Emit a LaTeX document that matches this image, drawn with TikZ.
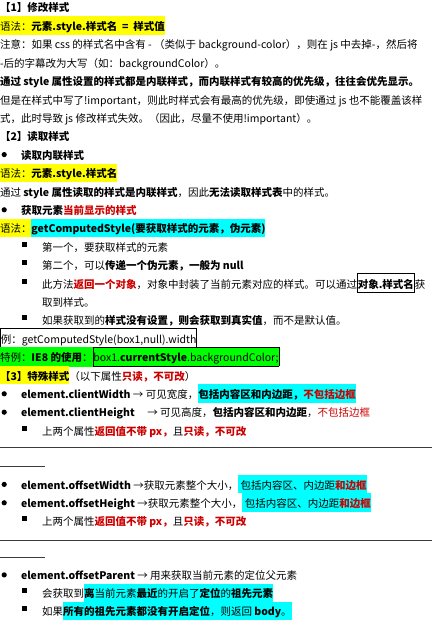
\documentclass[tikz,border=0pt]{standalone}
\usepackage{fontspec}
\setmainfont{Noto Sans CJK SC}
\definecolor{redtext}{RGB}{204,0,0}
\definecolor{hlyellow}{RGB}{255,255,0}
\definecolor{hlcyan}{RGB}{0,255,255}
\definecolor{hlgreen}{RGB}{0,255,0}
\definecolor{rulegray}{RGB}{60,60,60}
\newcommand{\linestrut}{\vrule height 14pt depth 4.4pt width 0pt}
\newcommand{\hlmark}[2]{{\setlength{\fboxsep}{0pt}\colorbox{#1}{\linestrut#2}}}
\newcommand{\boxmark}[1]{{\setlength{\fboxsep}{0pt}\setlength{\fboxrule}{0.8pt}\fbox{\linestrut#1}}}
\newcommand{\redb}[1]{\textcolor{redtext}{\textbf{#1}}}
\tikzset{textline/.style={anchor=base west, inner sep=0pt, outer sep=0pt,
    font=\fontsize{10.5}{12}\selectfont}}
\begin{document}
\begin{tikzpicture}[x=1pt, y=-1pt]
                \useasboundingbox[fill=white] (0,0) rectangle (432,621);
                % part 1
                \node[textline] (head1) at (0,12) {\textbf{【1】修改样式}};
                \node[textline] (syntax1) at (0,30.4) {\hlmark{hlyellow}{语法：\textbf{元素.style.样式名 \ = \ 样式值}}};
                \node[textline] (note1) at (0,48.8) {注意：如果 css 的样式名中含有 - （类似于 background-color），则在 js 中去掉-，然后将};
                \node[textline] (note2) at (0,67.2) {-后的字幕改为大写（如：backgroundColor）。};
                \node[textline] (inline1) at (0,85.6) {\textbf{通过 style 属性设置的样式都是内联样式，而内联样式有较高的优先级，往往会优先显示。}};
                \node[textline] (imp1) at (0,104) {但是在样式中写了!important，则此时样式会有最高的优先级，即使通过 js 也不能覆盖该样};
                \node[textline] (imp2) at (0,122.4) {式，此时导致 js 修改样式失效。（因此，尽量不使用!important）。};
                % part 2
                \node[textline] (head2) at (0,140.8) {\textbf{【2】读取样式}};
                \node[textline] (read1) at (21,159.2) {\textbf{读取内联样式}};
                \node[textline] (syntax2) at (0,177.6) {\hlmark{hlyellow}{语法：\textbf{元素.style.样式名}}};
                \node[textline] (read2) at (0,196) {通过 \textbf{style 属性读取的样式是内联样式}，因此\textbf{无法读取样式表}中的样式。};
                \node[textline] (read3) at (21,214.4) {\textbf{获取元素}\redb{当前显示的样式}};
                \node[textline] (syntax3) at (0,232.8) {\hlmark{hlyellow}{语法：}\hlmark{hlcyan}{\textbf{getComputedStyle(要获取样式的元素，伪元素)}}};
                \node[textline] (arg1) at (42,251.2) {第一个，要获取样式的元素};
                \node[textline] (arg2) at (42,269.6) {第二个，可以\textbf{传递一个伪元素，一般为 null}};
                \node[textline] (ret1) at (42,288) {此方法\redb{返回一个对象}，对象中封装了当前元素对应的样式。可以通过\boxmark{\textbf{对象.样式名}}获};
                \node[textline] (ret2) at (42,306.4) {取到样式。};
                \node[textline] (ret3) at (42,324.8) {如果获取到的\textbf{样式没有设置，则会获取到真实值}，而不是默认值。};
                \node[textline] (example1) at (0,343.2) {\boxmark{例：getComputedStyle(box1,null).width}};
                \node[textline] (example2) at (0,361.6) {\hlmark{hlgreen}{特例：\textbf{IE8 的使用}：\boxmark{box1.\textbf{currentStyle}.backgroundColor;}}};
                % part 3
                \node[textline] (head3) at (0,380) {\hlmark{hlyellow}{\textbf{【3】特殊样式}}（以下属性\redb{只读，不可改}）};
                \node[textline] (client1) at (21,398.4) {\textbf{element.clientWidth} → 可见宽度，\hlmark{hlcyan}{\textbf{包括内容区和内边距，}\redb{不包括边框}}};
                \node[textline] (client2) at (21,416.8) {\textbf{element.clientHeight}\hspace{1.2em}→ 可见高度，\textbf{包括内容区和内边距}，\textcolor{redtext}{不包括边框}};
                \node[textline] (client3) at (42,435.2) {上两个属性\redb{返回值不带 px，}且\redb{只读，不可改}};
                \node[textline] (offset1) at (21,489) {\textbf{element.offsetWidth} →获取元素整个大小，\hlmark{hlcyan}{\ 包括内容区、内边距\redb{和边框}}};
                \node[textline] (offset2) at (21,507.4) {\textbf{element.offsetHeight} →获取元素整个大小，\hlmark{hlcyan}{\ 包括内容区、内边距\redb{和边框}}};
                \node[textline] (offset3) at (42,525.8) {上两个属性\redb{返回值不带 px，}且\redb{只读，不可改}};
                \node[textline] (parent1) at (21,579.5) {\textbf{element.offsetParent} → 用来获取当前元素的定位父元素};
                \node[textline] (parent2) at (42,597.5) {会获取到\hlmark{hlcyan}{\textbf{离}当前元素\textbf{最近}的开启了\textbf{定位}的\textbf{祖先元素}}};
                \node[textline] (parent3) at (42,615.5) {如果\hlmark{hlcyan}{\textbf{所有的祖先元素都没有开启定位}，则返回 \textbf{body}。}};
                % bullets
                \foreach \y in {159.2,214.4,398.4,416.8,489,507.4,579.5}
                  \fill[black] (4.2,\y-4.6) circle (2.6);
                \foreach \y in {251.2,269.6,288,324.8,435.2,525.8,597.5,615.5}
                  \fill[black] (22,\y-9.5) rectangle (27,\y-4.5);
                % rules
                \draw[rulegray, line width=0.9pt] (0,447) -- (432,447);
                \draw[rulegray, line width=0.9pt] (0,466) -- (45,466);
                \draw[rulegray, line width=0.9pt] (0,540) -- (432,540);
                \draw[rulegray, line width=0.9pt] (0,557.5) -- (45,557.5);
\end{tikzpicture}
\end{document}
